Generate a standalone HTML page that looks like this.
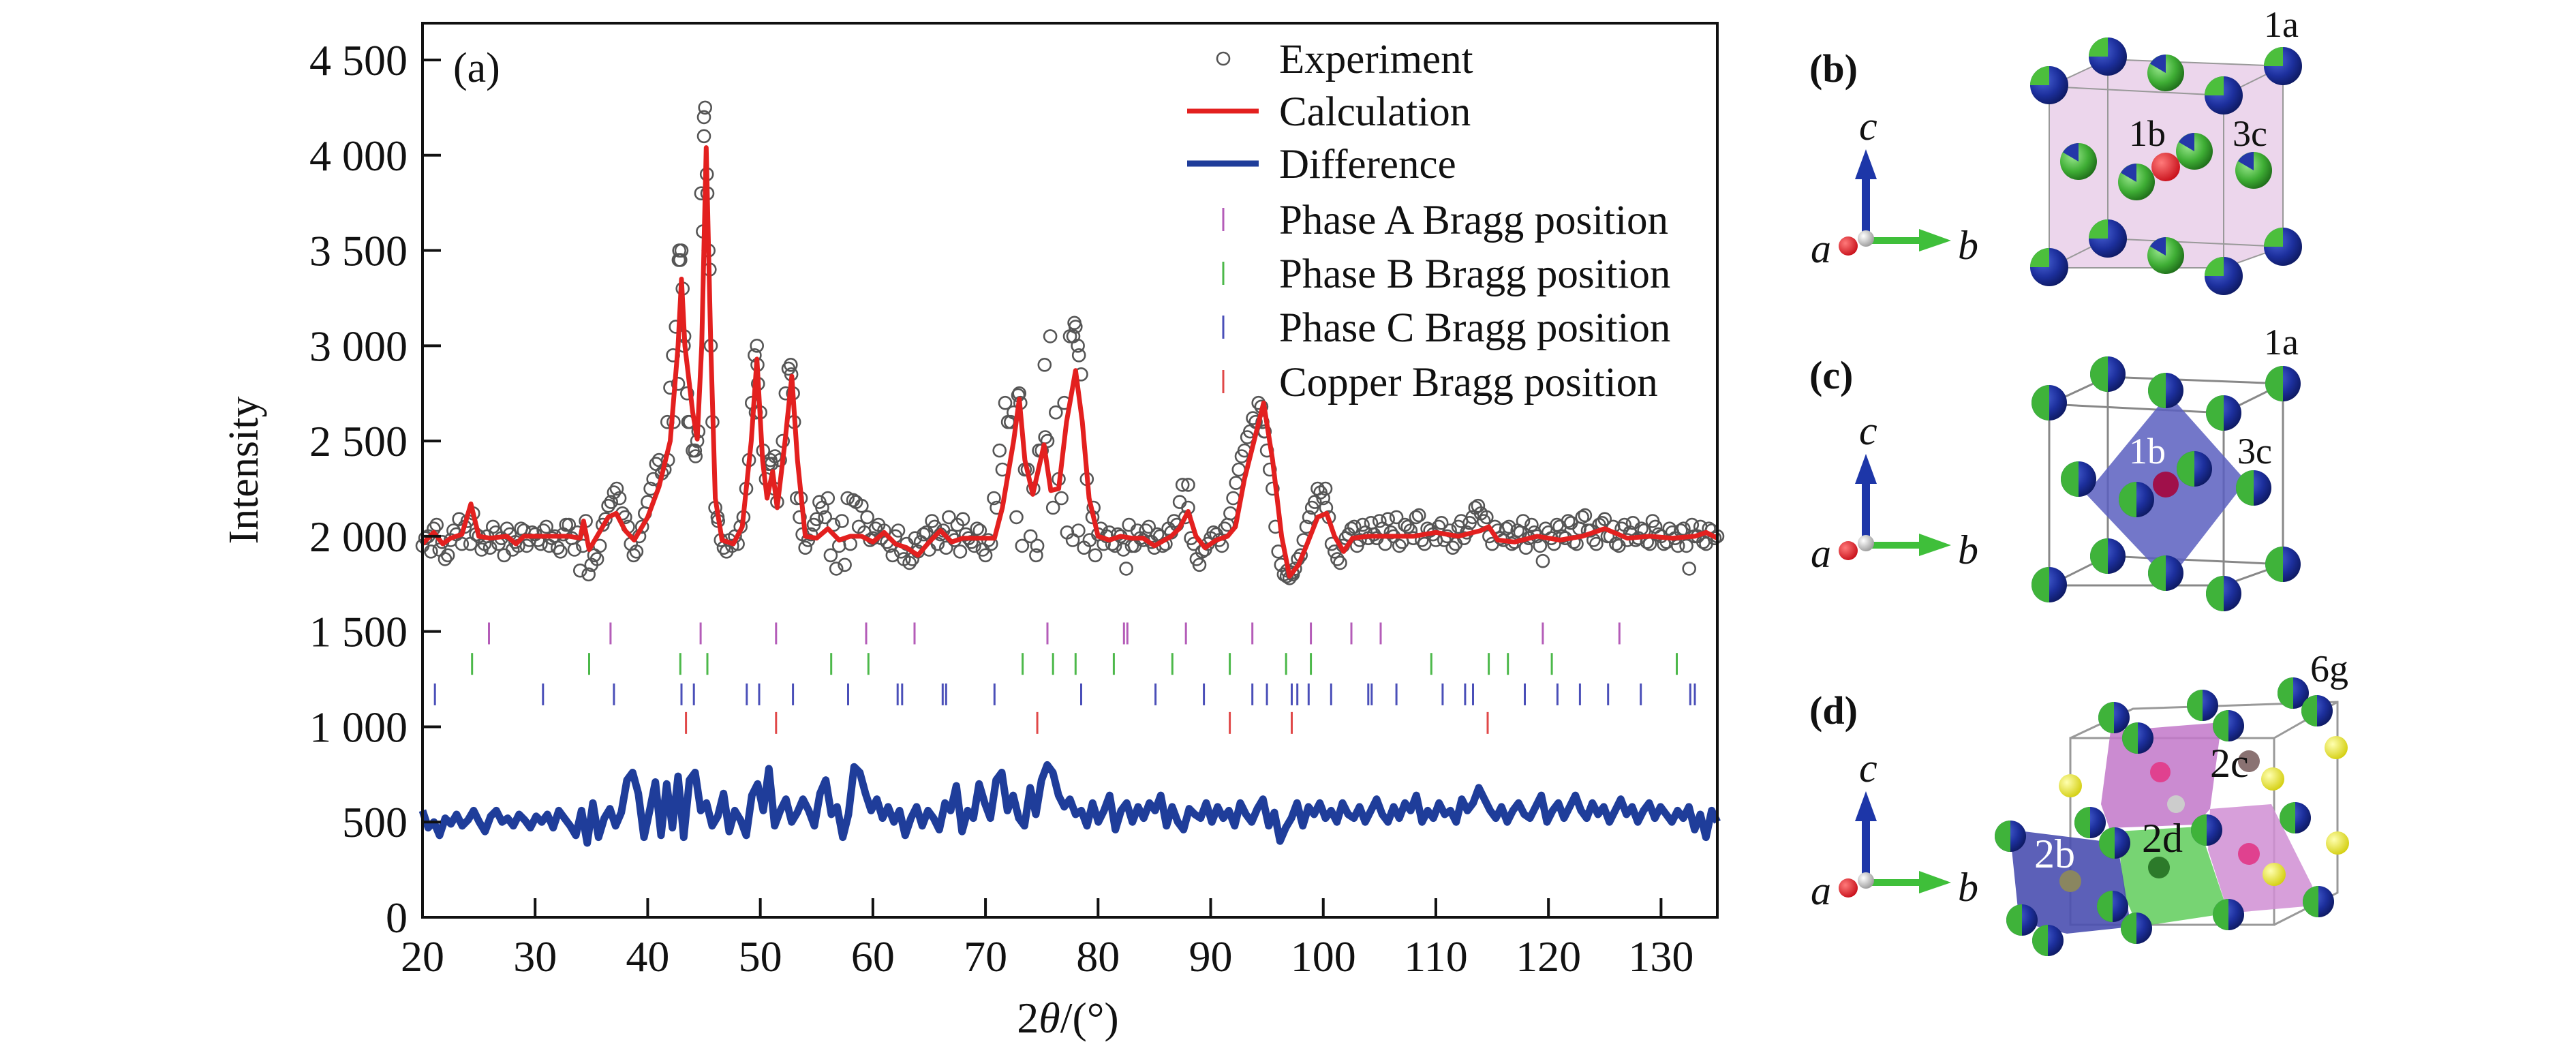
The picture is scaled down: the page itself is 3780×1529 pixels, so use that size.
<!DOCTYPE html>
<html><head><meta charset="utf-8"><style>
html,body{margin:0;padding:0;background:#fff;}
svg{display:block;font-family:"Liberation Serif",serif;}
</style></head><body>
<svg id="fig" width="3780" height="1529" viewBox="0 0 3780 1529" xmlns="http://www.w3.org/2000/svg">
<defs>
<radialGradient id="gG" cx="0.35" cy="0.35" r="0.7"><stop offset="0" stop-color="#9be88f"/><stop offset="0.6" stop-color="#3fae35"/><stop offset="1" stop-color="#1f6e1a"/></radialGradient>
<radialGradient id="gB" cx="0.35" cy="0.35" r="0.7"><stop offset="0" stop-color="#4a63d6"/><stop offset="0.6" stop-color="#1c2f9c"/><stop offset="1" stop-color="#0e1a63"/></radialGradient>
<radialGradient id="gR" cx="0.35" cy="0.35" r="0.7"><stop offset="0" stop-color="#ff7a7a"/><stop offset="1" stop-color="#c8101a"/></radialGradient>
<radialGradient id="gY" cx="0.35" cy="0.35" r="0.7"><stop offset="0" stop-color="#ffffb0"/><stop offset="1" stop-color="#d4cf10"/></radialGradient>
<radialGradient id="gW" cx="0.35" cy="0.35" r="0.7"><stop offset="0" stop-color="#ffffff"/><stop offset="1" stop-color="#9a9a9a"/></radialGradient>
</defs>
<g id="chart"></g>
<g id="panels"></g>
</svg>
<script>
// ---- chart data ----
const xTicks = [20,30,40,50,60,70,80,90,100,110,120,130];
const yTicks = [0,500,1000,1500,2000,2500,3000,3500,4000,4500];
const yTickLabels = ["0","500","1 000","1 500","2 000","2 500","3 000","3 500","4 000","4 500"];
const calcX = [20,21,21.8,22.5,23.5,24.3,25,26,27.5,28.3,29,31,33,34,34.3,34.8,35.5,36.5,37.2,38,38.8,40,41,42,42.7,43,43.3,44,44.4,44.8,45.2,45.6,46,46.6,47.6,48.4,49.2,49.7,50.2,50.6,51.1,51.5,52.2,52.8,53.3,54,55,56,57,58,59,60,61,62,63,64,65,66,67,68,69,70.8,71.5,72.5,73,73.5,74.2,75.2,75.8,76.5,77.2,78,78.6,79.2,80,81,82,83,84,85,86.5,87.2,88,88.7,89.5,90.5,91.5,92.2,93,94.7,95.5,96.3,97,97.8,98.5,99.5,100.3,101,101.8,102.6,104,106,108,110,112,114,114.7,115.5,117,119,121,123,125,127,129,131,133,134,135];
const calcY = [1960,2020,1960,1990,2010,2170,2000,1990,2000,1960,2000,2000,2000,1990,2080,1930,2000,2100,2120,2030,1980,2100,2260,2500,3000,3350,3000,2650,2510,3000,4040,3000,2200,1980,1960,2050,2500,2930,2400,2200,2340,2150,2500,2840,2400,2000,1990,2040,1980,2000,2000,1970,2020,1960,1940,1900,1970,2030,1970,1990,1990,1990,2150,2500,2720,2400,2220,2480,2240,2250,2600,2870,2600,2200,2000,1980,2000,1990,1990,1950,2000,2040,2130,2000,1940,1980,2000,2050,2300,2700,2400,2000,1790,1850,1950,2100,2120,2000,1920,1990,2000,2000,2000,2020,2000,2030,2050,1980,1970,2000,1980,2000,2040,1990,2000,1990,2000,2020,1990];
const expVals = [1950,2000,2040,1930,1880,1980,2010,1960,2080,2120,2000,1960,1940,2020,1990,2040,1930,1950,2030,1980,2010,1960,2050,1990,1940,2010,2060,1930,1820,2080,1850,1880,2060,2160,2230,2200,2100,1960,1920,2050,2180,2300,2400,2350,2780,3100,3500,2750,2450,2550,4200,3400,2150,1980,1920,1950,1960,2100,2400,2950,2650,2300,2380,2180,2500,2880,2600,2100,1940,2010,2090,2150,2200,2060,1950,1850,1960,2180,2160,2100,1990,2060,2030,1950,2000,1920,1960,1880,1920,2010,1930,2050,2010,1940,2000,2060,2090,1990,1950,2030,1900,1960,2150,2350,2600,2650,2750,2350,2000,1900,2450,2500,2150,2300,2700,3050,3100,2850,2300,2100,2010,1960,2020,1950,2000,1830,1950,2030,1980,2050,1940,2000,1960,2020,2060,2270,2150,1960,1850,1930,1990,2010,1950,2060,2200,2350,2450,2550,2600,2680,2450,2250,1920,1800,1780,1830,1900,2050,2150,2250,2200,2100,1920,1860,1990,2040,1950,2060,1990,2010,2080,1960,2020,2100,1970,2050,1990,2110,1960,2030,1980,2070,2000,1940,2050,1990,2070,2150,2120,2100,1960,2030,1980,2050,1970,2020,1940,2060,2000,1870,2020,1960,2050,1990,2070,1960,2100,2030,1980,2060,2090,2000,1960,2040,1980,2070,1990,2030,1960,2050,2000,1970,2020,1950,2040,1830,2000,2050,1960,2030,2000];
const expVals2 = [1990,1920,2060,1970,1900,2030,2090,2050,1960,2010,1930,2000,2050,1960,1900,2010,1970,2040,1950,2020,
1980,2030,1950,2000,1920,2060,1990,2020,1950,1800,1900,1950,2090,2180,2250,2120,2050,1900,2000,2120,
2250,2380,2330,2600,2950,3450,3050,2600,2420,3800,3900,2600,2080,1940,1980,2000,2050,2250,2700,2900,
2450,2380,2250,2400,2750,2850,2200,2010,1980,2060,2180,2100,1900,1830,2080,2200,2190,2050,2020,1980,
2040,1990,1970,1900,2030,1880,1860,1990,1970,2020,2080,1960,2030,2100,1980,1920,2010,1970,2040,1930,
1980,2200,2450,2700,2600,2100,1950,2350,2250,2450,2900,3050,2650,2200,2020,1980,2030,1940,1980,1900,
2040,2000,1960,2010,1930,2060,1950,1990,2030,1970,2010,1950,2040,2080,2180,2100,1990,1880,1920,1960,
2020,1980,2040,2120,2280,2420,2520,2620,2700,2550,2350,2050,1850,1790,1810,1880,1980,2100,2180,2230,
2150,1960,1880,1950,2010,2050,1980,2020,2070,1990,2040,2090,2000,1950,2060,2030,2100,1980,2040,2010,
2050,1980,2030,1960,2080,2020,2100,2160,2080,2000,2050,1990,2040,1960,2030,2080,1990,2020,1950,2040,
1990,2060,2000,2080,1970,2040,2110,2030,1960,2070,2000,2050,1950,2060,2020,1980,2040,1970,2080,2010,
1960,2040,1990,2030,1950,2060,2000,1970,2040,1990];
const expExtraX = [42.8,42.9,43.1,43.2,42.7,44.2,44.4,44.9,45.0,45.1,45.3,45.4,45.6,49.7,49.6,49.8,52.7,52.9,72.9,73.1,75.3,77.8,77.9,78.2,78.3,88,94.6,94.8,100.2,43.6,46.2,41.8,42.3,50.9,51.3,53.6,74.6,96.8,97.3,79.6];
const expExtraY = [3500,3450,3300,3000,2800,2450,2500,3600,4100,4250,3800,3500,3000,3000,2650,2800,2900,2750,2740,2700,2520,3050,3120,3000,2950,2270,2600,2550,2250,2600,2100,2400,2600,2400,2420,2200,1950,1820,1800,2150];
const diffVals = [560,470,500,430,520,490,540,480,510,560,500,450,530,560,500,520,480,540,510,470,530,
500,540,470,560,520,480,430,560,390,600,420,520,570,480,550,720,760,650,420,
560,710,430,700,470,740,420,720,760,560,600,480,530,650,450,560,510,430,640,
700,560,780,480,560,620,500,550,620,560,480,650,720,540,580,420,540,790,760,650,
560,620,520,580,500,560,430,520,580,480,560,520,460,600,560,690,450,560,520,700,
600,520,720,760,560,640,520,480,680,540,720,800,760,640,580,620,540,560,480,600,
500,560,640,460,560,600,500,580,520,600,560,640,480,580,500,460,570,540,520,600,
500,580,520,560,480,600,540,500,570,620,480,550,400,470,520,600,480,580,540,600,
520,560,500,600,540,520,580,500,560,620,540,500,580,520,600,560,640,500,560,520,
600,540,560,500,620,560,600,680,620,560,520,580,500,560,600,540,520,580,640,500,
560,600,520,580,640,560,520,600,540,580,500,560,620,540,580,500,560,600,520,580,
540,500,560,520,580,460,540,420,560,500];
const braggA = [25.9,36.7,44.7,51.4,59.4,63.7,75.5,82.3,82.6,87.8,93.7,98.9,102.5,105.1,119.5,126.3];
const braggB = [24.4,34.8,42.9,45.3,56.3,59.6,73.3,76.0,78.0,81.4,86.6,91.7,96.7,98.9,109.6,114.7,116.4,120.3,131.4];
const braggC = [21.1,30.7,37.0,43.0,44.1,48.8,49.9,52.9,57.8,62.2,62.6,66.2,66.5,70.8,78.5,85.1,89.4,93.7,95.0,97.2,97.7,98.7,100.7,104.0,104.3,106.5,110.6,112.6,113.3,117.9,120.8,122.8,125.3,128.2,132.6,133.0];
const braggCu = [43.4,51.4,74.6,91.7,97.2,114.6];
const braggLevels = [1490,1330,1170,1020];
const legendLabels = ["Experiment","Calculation","Difference","Phase A Bragg position","Phase B Bragg position","Phase C Bragg position","Copper Bragg position"];

const NS = "http://www.w3.org/2000/svg";
const L = 620, R = 2520, T = 34, B = 1346;
const xMin = 20, xMax = 135, yMin = 0;
function sx(v){ return L + (v - xMin) / (xMax - xMin) * (R - L); }
function sy(v){ return B - (v - yMin) / (4500 - yMin) * (B - 88); }
function mk(tag, attrs, parent){ const e = document.createElementNS(NS, tag); for (const k in attrs) e.setAttribute(k, attrs[k]); parent.appendChild(e); return e; }
const chart = document.getElementById('chart');

// experiment points
const expG = mk('g', {}, chart);


const stepE = (xMax - xMin) / (expVals.length - 1);
function expPt(x, v){
  const c = mk('circle', {cx: sx(x).toFixed(1), cy: sy(v).toFixed(1), r: 9, fill: 'none', stroke: '#555', 'stroke-width': 2.6}, expG);
  
  
}
expVals.forEach((v, i) => expPt(xMin + i * stepE, v));
expVals2.forEach((v, i) => expPt(20.25 + i * 0.5, v));
expExtraX.forEach((x, i) => expPt(x, expExtraY[i]));

// calc line
const calcPath = mk('path', {d: calcX.map((x, i) => (i ? 'L' : 'M') + sx(x).toFixed(1) + ',' + sy(calcY[i]).toFixed(1)).join(''), fill: 'none', stroke: '#e3201f', 'stroke-width': 7, 'stroke-linejoin': 'round'}, chart);



// diff line
const stepD = (xMax - xMin) / (diffVals.length - 1);
const diffPath = mk('path', {d: diffVals.map((v, i) => (i ? 'L' : 'M') + sx(xMin + i * stepD).toFixed(1) + ',' + sy(v).toFixed(1)).join(''), fill: 'none', stroke: '#1f3d9a', 'stroke-width': 11, 'stroke-linejoin': 'round'}, chart);



// bragg ticks
const braggSets = [braggA, braggB, braggC, braggCu];
const braggColors = ['#b45cb8', '#4cb84a', '#4a4fb8', '#e04848'];
const braggNames = ['phase-a-bragg-tick', 'phase-b-bragg-tick', 'phase-c-bragg-tick', 'copper-bragg-tick'];
braggSets.forEach((set, k) => {
  set.forEach(x => {
    const l = mk('line', {x1: sx(x).toFixed(1), x2: sx(x).toFixed(1), y1: sy(braggLevels[k]) - 16, y2: sy(braggLevels[k]) + 16, stroke: braggColors[k], 'stroke-width': 3}, chart);
    
    
  });
});

// axes box
const box = mk('rect', {x: L, y: T, width: R - L, height: B - T, fill: 'none', stroke: '#111', 'stroke-width': 4}, chart);


xTicks.forEach(v => {
  const t = mk('line', {x1: sx(v), x2: sx(v), y1: B, y2: B - 28, stroke: '#111', 'stroke-width': 4}, chart);
  
  
  const lb = mk('text', {x: sx(v), y: 1425, 'font-size': 64, 'text-anchor': 'middle', fill: '#111'}, chart);
  lb.textContent = v;
  
  
});
yTicks.forEach((v, i) => {
  const t = mk('line', {x1: L, x2: L + 27, y1: sy(v), y2: sy(v), stroke: '#111', 'stroke-width': 4}, chart);
  
  
  const lb = mk('text', {x: 598, y: sy(v) + 22, 'font-size': 64, 'text-anchor': 'end', fill: '#111'}, chart);
  lb.textContent = yTickLabels[i];
  
  
});
const yt = mk('text', {x: 0, y: 0, 'font-size': 62, 'text-anchor': 'middle', fill: '#111', transform: 'translate(378,690) rotate(-90)'}, chart);
yt.textContent = 'Intensity';


const xt = mk('text', {x: 1567, y: 1515, 'font-size': 64, 'text-anchor': 'middle', fill: '#111'}, chart);
xt.innerHTML = '2<tspan font-style="italic">θ</tspan>/(°)';


const pa = mk('text', {x: 665, y: 120, 'font-size': 62, fill: '#111'}, chart);
pa.textContent = '(a)';



// legend
const legRowY = [86, 163, 240, 322, 401, 480, 560];
const leg = mk('g', {}, chart);


legendLabels.forEach((lab, i) => {
  const y = legRowY[i];
  let m;
  if (i === 0) m = mk('circle', {cx: 1795, cy: y, r: 9, fill: 'none', stroke: '#555', 'stroke-width': 2.6}, leg);
  else if (i === 1) m = mk('line', {x1: 1742, x2: 1847, y1: y, y2: y, stroke: '#e3201f', 'stroke-width': 7}, leg);
  else if (i === 2) m = mk('line', {x1: 1742, x2: 1847, y1: y, y2: y, stroke: '#1f3d9a', 'stroke-width': 9}, leg);
  else m = mk('line', {x1: 1795, x2: 1795, y1: y - 17, y2: y + 17, stroke: braggColors[i - 3], 'stroke-width': 3}, leg);
  
  
  const t = mk('text', {x: 1877, y: y + 21, 'font-size': 61, fill: '#111'}, leg);
  t.textContent = lab;
  
  
});

// ---- crystal panels (illustration) ----
const P = document.getElementById('panels');
function sphere(g, cx, cy, r, kind){
  const s = mk('g', {}, g);
  
  
  if (kind === 'blueCorner') {
    mk('circle', {cx, cy, r, fill: 'url(#gB)'}, s);
    mk('path', {d: `M${cx},${cy} L${cx-r},${cy} A${r},${r} 0 0 1 ${cx},${cy-r} Z`, fill: '#4cbf3c'}, s);
  } else if (kind === 'greenFace') {
    mk('circle', {cx, cy, r, fill: 'url(#gG)'}, s);
    mk('path', {d: `M${cx},${cy} L${cx-r*0.85},${cy-r*0.5} A${r},${r} 0 0 1 ${cx},${cy-r} Z`, fill: '#2437a8'}, s);
  } else if (kind === 'half') {
    mk('circle', {cx, cy, r, fill: 'url(#gB)'}, s);
    mk('path', {d: `M${cx},${cy-r} A${r},${r} 0 0 0 ${cx},${cy+r} Z`, fill: '#3fb33a'}, s);
  } else {
    mk('circle', {cx, cy, r, fill: kind}, s);
  }
}
function txt(x, y, s, size, name, extra){
  const t = mk('text', Object.assign({x, y, 'font-size': size, fill: '#111'}, extra || {}), P);
  t.textContent = s;
  
  
}
function axesGlyph(oy, name){
  const g = mk('g', {}, P);
  
  
  const ox = 2738;
  mk('rect', {x: ox - 6, y: oy - 85, width: 12, height: 85, fill: '#1d36a8'}, g);
  mk('polygon', {points: `${ox-16},${oy-84} ${ox+16},${oy-84} ${ox},${oy-128}`, fill: '#1d36a8'}, g);
  mk('rect', {x: ox, y: oy + 1, width: 80, height: 10, fill: '#3fbf3a'}, g);
  mk('polygon', {points: `${ox+78},${oy-11} ${ox+78},${oy+22} ${ox+125},${oy+6}`, fill: '#3fbf3a'}, g);
  mk('circle', {cx: ox - 26, cy: oy + 14, r: 14, fill: 'url(#gR)'}, g);
  mk('circle', {cx: ox, cy: oy + 3, r: 12, fill: 'url(#gW)'}, g);
  txt(2728, oy - 142, 'c', 60, 'axis-c-label', {'font-style': 'italic'});
  txt(2657, oy + 38, 'a', 60, 'axis-a-label', {'font-style': 'italic'});
  txt(2873, oy + 33, 'b', 60, 'axis-b-label', {'font-style': 'italic'});
}
// panel b
txt(2655, 120, '(b)', 58, 'panel-b-label', {'font-weight': 'bold'});
axesGlyph(347, 'axes-glyph-b');
const gb = mk('g', {}, P);


mk('polygon', {points: '3007,127 3093,87 3350,97 3350,360 3263,393 3007,393', fill: '#ecd6ec', stroke: 'none'}, gb);
mk('path', {d: 'M3007,127 L3263,140 L3263,393 L3007,393 Z M3263,140 L3350,97 M3263,393 L3350,362 M3007,127 L3093,87 L3350,97 L3350,362 M3093,87 L3093,350 L3350,362 M3093,350 L3007,393', fill: 'none', stroke: '#999', 'stroke-width': 2}, gb);
[[3093,350],[3007,392],[3263,405],[3350,362],[3093,83],[3350,97],[3007,125],[3263,140]].forEach(p => sphere(gb, p[0], p[1], 28, 'blueCorner'));
[[3178,107],[3050,237],[3220,222],[3307,250],[3178,375]].forEach(p => sphere(gb, p[0], p[1], 27, 'greenFace'));
sphere(gb, 3178, 245, 21, 'url(#gR)');
sphere(gb, 3135, 267, 27, 'greenFace');
txt(3322, 54, '1a', 54, 'site-1a-label');
txt(3124, 214, '1b', 54, 'site-1b-label');
txt(3276, 214, '3c', 54, 'site-3c-label');
// panel c
const dy = 466;
txt(2655, 570, '(c)', 58, 'panel-c-label', {'font-weight': 'bold'});
axesGlyph(794, 'axes-glyph-c');
const gc = mk('g', {}, P);


mk('path', {d: `M3007,${127+dy} L3263,${140+dy} L3263,${393+dy} L3007,${393+dy} Z M3263,${140+dy} L3350,${97+dy} M3263,${393+dy} L3350,${362+dy} M3007,${127+dy} L3093,${87+dy} L3350,${97+dy} L3350,${362+dy} M3093,${87+dy} L3093,${350+dy} L3350,${362+dy} M3093,${350+dy} L3007,${393+dy}`, fill: 'none', stroke: '#888', 'stroke-width': 3}, gc);
mk('polygon', {points: '3182,578 3296,706 3182,853 3061,725', fill: '#5a5fc0', 'fill-opacity': 0.85}, gc);
[[3093,350],[3007,392],[3263,405],[3350,362],[3093,83],[3350,97],[3007,125],[3263,140],[3178,107],[3050,237],[3307,250],[3178,375],[3220,222]].forEach(p => sphere(gc, p[0], p[1] + dy, 26, 'half'));
sphere(gc, 3178, 245 + dy, 19, '#a0104a');
sphere(gc, 3135, 267 + dy, 26, 'half');
txt(3322, 520, '1a', 54, 'site-1a-label');
const t1b = mk('text', {x: 3124, y: 680, 'font-size': 54, fill: '#fff'}, P);
t1b.textContent = '1b';


txt(3283, 680, '3c', 54, 'site-3c-label');
// panel d
txt(2655, 1062, '(d)', 58, 'panel-d-label', {'font-weight': 'bold'});
axesGlyph(1289, 'axes-glyph-d');
const gd = mk('g', {}, P);


mk('path', {d: 'M3038,1083 L3337,1083 L3337,1357 L3038,1357 Z M3038,1083 L3130,1040 L3430,1030 L3430,1310 L3337,1357 M3337,1083 L3430,1030', fill: 'none', stroke: '#999', 'stroke-width': 3}, gd);
mk('polygon', {points: '3083,1180 3097,1073 3260,1060 3243,1187 3223,1210 3095,1215', fill: '#c277c9', 'fill-opacity': 0.85}, gd);
mk('polygon', {points: '3243,1187 3333,1180 3393,1300 3383,1330 3270,1340 3240,1247', fill: '#d08ed4', 'fill-opacity': 0.85}, gd);
mk('polygon', {points: '3107,1220 3227,1213 3270,1340 3137,1360 3117,1313', fill: '#5fcc5a', 'fill-opacity': 0.85}, gd);
mk('polygon', {points: '2950,1227 2970,1220 3107,1237 3127,1360 3033,1370 2963,1353', fill: '#4a4fb0', 'fill-opacity': 0.9}, gd);
[[3170,1133,15,'#e0418f'],[3300,1117,16,'#8a7272'],[3193,1180,13,'#cccccc'],[3168,1273,16,'#2c7a2a'],[3038,1293,16,'#8a8660'],[3300,1253,16,'#e0418f']].forEach(p => sphere(gd, p[0], p[1], p[2], p[3]));
[[3038,1153],[3428,1097],[3335,1143],[3430,1237],[3337,1283]].forEach(p => sphere(gd, p[0], p[1], 17, 'url(#gY)'));
[[3102,1053],[3137,1083],[3232,1035],[3270,1065],[3365,1017],[3400,1043],[3067,1207],[3103,1237],[3238,1218],[3368,1200],[2950,1227],[2967,1350],[3005,1380],[3100,1330],[3135,1362],[3270,1342],[3402,1323]].forEach(p => sphere(gd, p[0], p[1], 23, 'half'));
txt(3243, 1140, '2c', 60, 'site-2c-label');
txt(3143, 1250, '2d', 60, 'site-2d-label');
const t2b = mk('text', {x: 2985, y: 1273, 'font-size': 60, fill: '#fff'}, P);
t2b.textContent = '2b';


txt(3390, 1000, '6g', 56, 'site-6g-label');
</script>
</body></html>
